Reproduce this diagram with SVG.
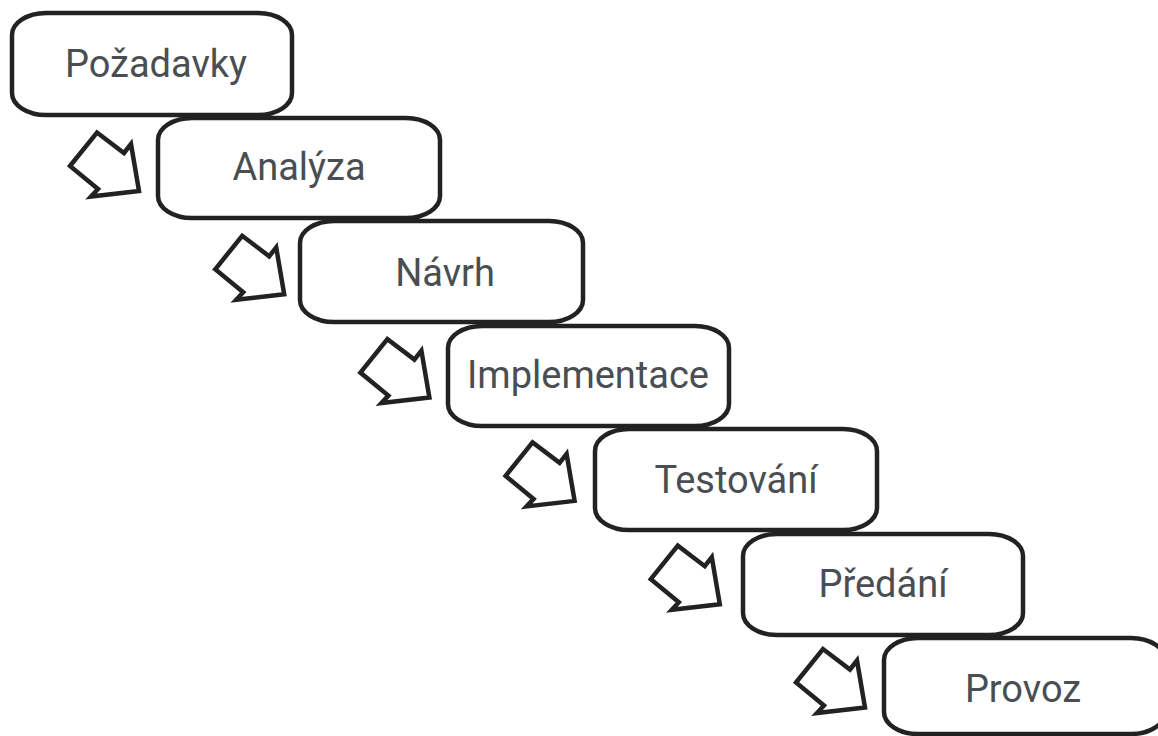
<svg xmlns="http://www.w3.org/2000/svg" width="1158" height="736" viewBox="0 0 1158 736">
<defs>
<style>
.box{fill:#fff;stroke:#222;stroke-width:4.5}
.arr{fill:#fff;stroke:#222;stroke-width:4.5;stroke-linejoin:miter}
.lbl{font-family:Roboto,"Liberation Sans",sans-serif;font-size:38px;fill:#4a4e52;text-anchor:middle}
</style>
<polygon id="arrow" class="arr" points="70,166 97,132.5 124,153 131,144 139,191 91,196.5 98,189"/>
</defs>
<rect width="1158" height="736" fill="#fff"/>
<g id="connectors">
<use href="#arrow"/>
<use href="#arrow" transform="translate(145.2,103.3)"/>
<use href="#arrow" transform="translate(290.4,206.6)"/>
<use href="#arrow" transform="translate(435.6,309.9)"/>
<use href="#arrow" transform="translate(580.8,413.2)"/>
<use href="#arrow" transform="translate(726,516.5)"/>
</g>
<g id="n1"><rect class="box" x="12" y="13" width="280" height="102" rx="34" ry="22"/><text class="lbl" x="156" y="77">Požadavky</text></g>
<g id="n2"><rect class="box" x="158" y="118" width="282" height="100" rx="34" ry="22"/><text class="lbl" x="299" y="180">Analýza</text></g>
<g id="n3"><rect class="box" x="300" y="221" width="283" height="101" rx="34" ry="22"/><text class="lbl" x="445" y="286">Návrh</text></g>
<g id="n4"><rect class="box" x="448" y="326" width="281" height="100" rx="34" ry="22"/><text class="lbl" x="588" y="388">Implementace</text></g>
<g id="n5"><rect class="box" x="595" y="429" width="282" height="101" rx="34" ry="22"/><text class="lbl" x="736" y="493">Testování</text></g>
<g id="n6"><rect class="box" x="743" y="534" width="280" height="101" rx="34" ry="22"/><text class="lbl" x="883" y="597">Předání</text></g>
<g id="n7"><rect class="box" x="884" y="638" width="281" height="96" rx="34" ry="22"/><text class="lbl" x="1023" y="702">Provoz</text></g>
</svg>
